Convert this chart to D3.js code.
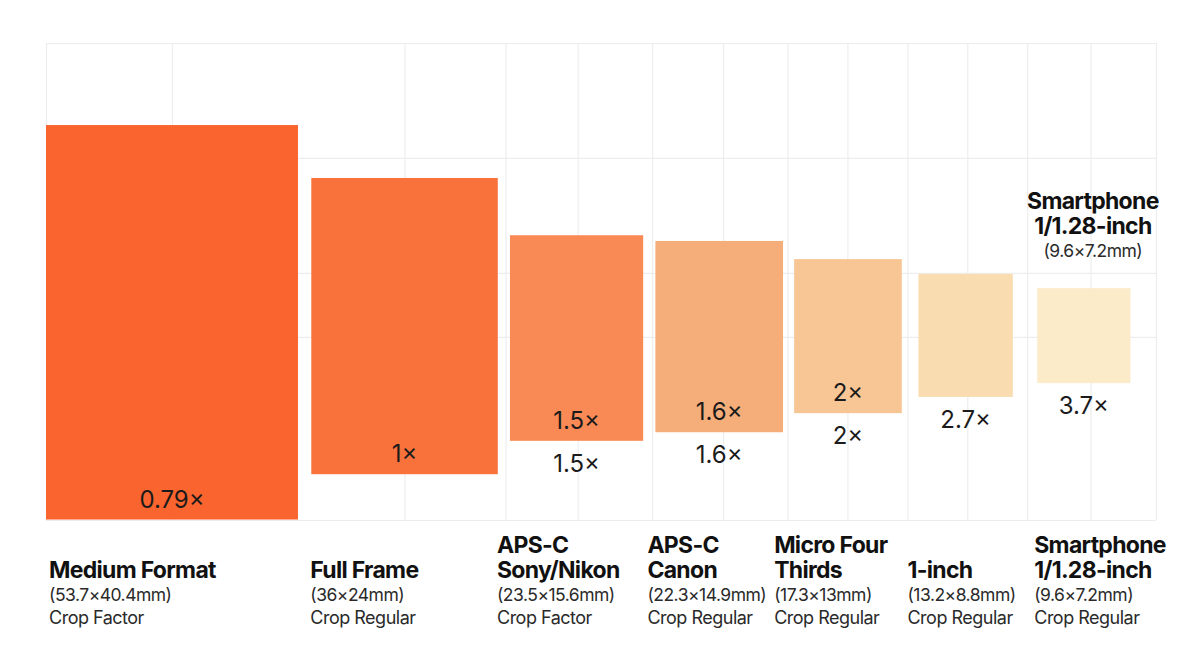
<!DOCTYPE html>
<html>
<head>
<meta charset="utf-8">
<script src="https://cdn.jsdelivr.net/npm/d3@7"></script>
<style>
  html, body { margin: 0; padding: 0; background: #fff; }
  svg { display: block; font-family: Inter, "Noto Sans", sans-serif; }
</style>
</head>
<body>
<svg id="chart"></svg>
<script>
(() => {

  // sensor formats, left to right
  const titles = [
    ['Medium Format'], ['Full Frame'], ['APS-C', 'Sony/Nikon'], ['APS-C', 'Canon'],
    ['Micro Four', 'Thirds'], ['1-inch'], ['Smartphone', '1/1.28-inch']
  ];
  const dims = ['(53.7×40.4mm)', '(36×24mm)', '(23.5×15.6mm)', '(22.3×14.9mm)',
    '(17.3×13mm)', '(13.2×8.8mm)', '(9.6×7.2mm)'];
  const notes = ['Crop Factor', 'Crop Regular', 'Crop Factor', 'Crop Regular',
    'Crop Regular', 'Crop Regular', 'Crop Regular'];
  const cropFactor = [0.79, 1, 1.5, 1.6, 2, 2.7, 3.7];

  // box extents (0-100 on each axis of the frame)
  const xFrom = [0, 23.9, 41.8, 54.9, 67.4, 78.6, 89.3];
  const xTo = [22.7, 40.7, 53.8, 66.4, 77.1, 87.1, 97.7];
  const yFrom = [0.1, 9.6, 16.6, 18.4, 22.4, 25.8, 28.7];
  const yTo = [82.8, 71.7, 59.7, 58.5, 54.7, 51.6, 48.6];

  // where the value label sits: inside the box, under it, or both
  const valueSpot = ['in', 'in', 'both', 'both', 'both', 'below', 'below'];

  const xGrid = [0, 11.35, 32.3, 41.4, 47.9, 54.6, 61.0, 66.8, 72.2, 77.6, 83.0, 88.4, 94.1, 100];
  const yGrid = [0, 38.4, 51.8, 75.9, 100];

  const colors = ['#fa642e', '#f9723b', '#fa8a55', '#f5ae7a', '#f8c694', '#fadcb1', '#fcebc8'];

  const svgWidth = 1204;
  const svgHeight = 672;
  const frame = { left: 46, right: 1156, top: 43, bottom: 520 };
  const labelNudge = [3, -1, -13, -8, -20, -11, -3];

  const svg = d3.select('#chart')
    .attr('width', svgWidth)
    .attr('height', svgHeight);

  const xScale = d3.scaleLinear().domain([0, 100]).range([frame.left, frame.right]);
  const yScale = d3.scaleLinear().domain([0, 100]).range([frame.bottom, frame.top]);
  const plotH = frame.bottom - frame.top;
  const plotW = frame.right - frame.left;

  // grid
  svg.append('g')
    .attr('class', 'grid-x')
    .attr('transform', `translate(0, ${frame.bottom})`)
    .call(d3.axisBottom(xScale).tickValues(xGrid).tickSize(-plotH).tickFormat(''))
    .call(g => g.select('.domain').remove());

  svg.append('g')
    .attr('class', 'grid-y')
    .attr('transform', `translate(${frame.left}, 0)`)
    .call(d3.axisLeft(yScale).tickValues(yGrid).tickSize(-plotW).tickFormat(''))
    .call(g => g.select('.domain').remove());

  svg.selectAll('.grid-x line, .grid-y line')
    .attr('stroke', '#ededed')
    .attr('stroke-width', 1.2);

  const rows = titles.map((t, i) => ({
    title: t, dim: dims[i], note: notes[i], crop: cropFactor[i],
    x0: xFrom[i], x1: xTo[i], y0: yFrom[i], y1: yTo[i],
    spot: valueSpot[i], color: colors[i], nudge: labelNudge[i]
  }));

  const sensor = svg.selectAll('.sensor')
    .data(rows)
    .enter()
    .append('g')
    .attr('class', 'sensor');

  sensor.append('rect')
    .attr('x', d => xScale(d.x0))
    .attr('y', d => yScale(d.y1))
    .attr('width', d => xScale(d.x1) - xScale(d.x0))
    .attr('height', d => yScale(d.y0) - yScale(d.y1))
    .attr('fill', d => d.color);

  const fmt = d => `${d.crop}×`;
  const midX = d => (xScale(d.x0) + xScale(d.x1)) / 2;

  sensor.filter(d => d.spot !== 'below')
    .append('text')
    .attr('x', midX)
    .attr('y', d => yScale(d.y0) - 12)
    .attr('text-anchor', 'middle')
    .attr('font-size', 24)
    .attr('fill', '#1b1b1b')
    .text(fmt);

  sensor.filter(d => d.spot !== 'in')
    .append('text')
    .attr('x', midX)
    .attr('y', d => yScale(d.y0) + 31)
    .attr('text-anchor', 'middle')
    .attr('font-size', 24)
    .attr('fill', '#1b1b1b')
    .text(fmt);

  // labels under the frame
  const titleBase = 578;
  const label = sensor.append('text')
    .attr('transform', d => `translate(${xScale(d.x0) + d.nudge}, 0)`)
    .attr('fill', '#111');

  label.each(function (d) {
    const t = d3.select(this);
    const n = d.title.length;
    d.title.forEach((line, k) => {
      t.append('tspan')
        .attr('x', 0)
        .attr('y', titleBase - (n - 1 - k) * 25)
        .attr('font-size', 23)
        .attr('font-weight', 700)
        .attr('letter-spacing', -0.7)
        .text(line);
    });
    t.append('tspan')
      .attr('x', 0)
      .attr('y', titleBase + 23)
      .attr('font-size', 17.5)
      .attr('letter-spacing', -0.5)
      .attr('fill', '#2a2a2a')
      .text(d.dim);
    t.append('tspan')
      .attr('x', 0)
      .attr('y', titleBase + 46)
      .attr('font-size', 18)
      .attr('letter-spacing', -0.5)
      .attr('fill', '#2a2a2a')
      .text(d.note);
  });

  // callout over the smallest sensor
  const last = rows[rows.length - 1];
  const callout = svg.append('text')
    .attr('text-anchor', 'middle')
    .attr('transform', `translate(${midX(last) + 9}, ${yScale(last.y1)})`)
    .attr('fill', '#111');

  last.title.forEach((line, k) => {
    callout.append('tspan')
      .attr('x', 0)
      .attr('y', -79 + k * 25)
      .attr('font-size', 23)
      .attr('font-weight', 700)
      .attr('letter-spacing', -0.7)
      .text(line);
  });
  callout.append('tspan')
    .attr('x', 0)
    .attr('y', -31)
    .attr('font-size', 17.5)
    .attr('letter-spacing', -0.5)
    .attr('fill', '#2a2a2a')
    .text(last.dim);

})();
</script>
</body>
</html>
